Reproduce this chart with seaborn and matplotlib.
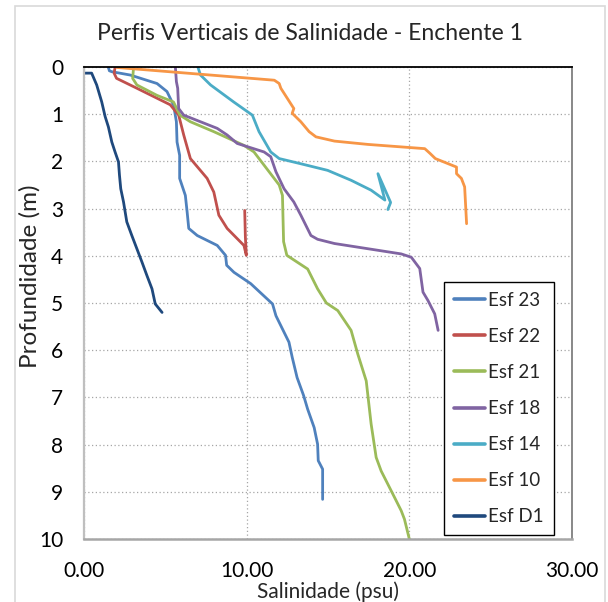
import numpy as np
import pandas as pd
import matplotlib
matplotlib.use("Agg")
import matplotlib.pyplot as plt
import seaborn as sns
from matplotlib.patches import Rectangle

# ---- data ----
series_names = ["Esf 23", "Esf 22", "Esf 21", "Esf 18", "Esf 14", "Esf 10", "Esf D1"]
series_colors = ["#4F81BD", "#C0504D", "#9BBB59", "#8064A2", "#4BACC6", "#F79646", "#1F497D"]

esf23_sal = [1.50, 1.56, 1.71, 2.84, 4.49, 5.10, 5.51, 5.68, 5.72, 5.88, 5.88, 6.23, 6.34, 6.44,
             6.96, 8.19, 8.70, 8.77, 9.22, 10.25, 11.59, 11.80, 12.60, 12.80, 13.10, 13.50,
             13.75, 14.15, 14.36, 14.40, 14.67, 14.67]
esf23_dep = [0.01, 0.08, 0.10, 0.17, 0.35, 0.52, 0.81, 1.16, 1.59, 1.87, 2.36, 2.72, 3.07, 3.42,
             3.57, 3.78, 3.99, 4.20, 4.35, 4.59, 5.02, 5.27, 5.83, 6.15, 6.58, 6.96,
             7.25, 7.64, 7.99, 8.34, 8.52, 9.16]

esf22_sal = [1.91, 1.85, 2.00, 3.25, 5.30, 5.82, 6.13, 6.54, 7.57, 7.98, 8.29, 8.80, 9.83, 9.98, 9.92, 9.88]
esf22_dep = [0.01, 0.13, 0.24, 0.45, 0.80, 1.02, 1.44, 1.94, 2.36, 2.65, 3.14, 3.42, 3.78, 3.99, 3.60, 3.04]

esf21_sal = [3.05, 2.99, 3.25, 4.48, 5.50, 5.90, 6.54, 7.98, 9.83, 10.45, 11.07, 12.00, 12.20,
             12.27, 12.47, 13.75, 14.36, 14.90, 15.60, 16.42, 16.83, 17.35, 17.65, 17.96,
             18.27, 18.99, 19.50, 19.70, 20.00]
esf21_dep = [0.00, 0.24, 0.38, 0.60, 0.74, 1.02, 1.16, 1.37, 1.66, 1.80, 2.08, 2.50, 2.72,
             3.70, 3.99, 4.28, 4.70, 5.00, 5.16, 5.58, 6.08, 6.65, 7.56, 8.27,
             8.56, 9.05, 9.40, 9.58, 10.00]

esf18_sal = [5.62, 5.68, 5.76, 5.82, 6.13, 7.16, 8.19, 8.80, 9.42, 11.07, 11.48, 11.80, 12.30,
             12.90, 13.33, 13.95, 14.36, 15.40, 17.45, 19.50, 20.12, 20.64, 20.84, 21.15,
             21.56, 21.77]
esf18_dep = [0.01, 0.31, 0.45, 0.88, 1.02, 1.16, 1.30, 1.44, 1.62, 1.80, 1.90, 2.22, 2.58,
             2.86, 3.14, 3.57, 3.65, 3.74, 3.85, 3.96, 4.03, 4.27, 4.77, 4.95,
             5.23, 5.58]

esf14_sal = [7.00, 7.16, 7.78, 9.20, 10.35, 10.76, 11.48, 12.00, 13.33, 14.98, 16.42, 17.65,
             18.50, 18.07, 18.85, 18.68]
esf14_dep = [0.00, 0.17, 0.38, 0.74, 1.02, 1.37, 1.80, 1.94, 2.05, 2.19, 2.40, 2.61,
             2.82, 2.26, 2.87, 3.02]

esf10_sal = [2.02, 11.70, 12.00, 12.10, 12.90, 12.80, 13.33, 13.84, 14.26, 15.40, 17.45, 20.95,
             21.27, 21.60, 22.90, 22.90, 23.20, 23.40, 23.52]
esf10_dep = [0.01, 0.28, 0.35, 0.45, 0.88, 0.98, 1.16, 1.37, 1.48, 1.57, 1.64, 1.73,
             1.83, 1.94, 2.12, 2.26, 2.36, 2.54, 3.32]

esfd1_sal = [0.05, 0.47, 0.78, 1.09, 1.30, 1.50, 1.71, 1.91, 2.12, 2.18, 2.26, 2.43, 2.63, 2.94,
             3.25, 3.56, 3.87, 4.18, 4.38, 4.80]
esfd1_dep = [0.13, 0.13, 0.38, 0.74, 1.05, 1.27, 1.59, 1.80, 2.01, 2.29, 2.58, 2.86, 3.28, 3.57,
             3.85, 4.13, 4.42, 4.70, 5.02, 5.20]

x_ticks = [0, 10, 20, 30]
x_tick_labels = ["0.00", "10.00", "20.00", "30.00"]
y_ticks = list(range(11))

title_text = "Perfis Verticais de Salinidade - Enchente 1"
x_label = "Salinidade (psu)"
y_label = "Profundidade (m)"

# ---- build table ----
all_sal = [esf23_sal, esf22_sal, esf21_sal, esf18_sal, esf14_sal, esf10_sal, esfd1_sal]
all_dep = [esf23_dep, esf22_dep, esf21_dep, esf18_dep, esf14_dep, esf10_dep, esfd1_dep]
frames = []
for name, sal, dep in zip(series_names, all_sal, all_dep):
    frames.append(pd.DataFrame({"Salinidade": sal, "Profundidade": dep, "Estacao": name}))
df = pd.concat(frames, ignore_index=True)

sns.set_theme(style="white")
plt.rcParams['font.family'] = ['Lato', 'DejaVu Sans']

W, H = 608, 602
fig = plt.figure(figsize=(W / 100, H / 100), dpi=100)
L, R, T, B = 84, 572, 67, 539
ax = fig.add_axes([L / W, 1 - B / H, (R - L) / W, (B - T) / H])

sns.lineplot(data=df, x="Salinidade", y="Profundidade", hue="Estacao",
             hue_order=series_names, palette=dict(zip(series_names, series_colors)),
             sort=False, estimator=None, linewidth=2.0, ax=ax, legend=True)

ax.set_xlim(0, 30)
ax.set_ylim(10, 0)
ax.set_xticks(x_ticks)
ax.set_xticklabels(x_tick_labels)
ax.set_yticks(y_ticks)
ax.set_xlabel("")
ax.set_ylabel("")
ax.tick_params(axis="both", length=0, labelsize=15, colors="black")
ax.tick_params(axis="x", pad=16)
ax.tick_params(axis="y", pad=15)

ax.grid(True, color="#A6A6A6", linestyle=(0, (1, 2)), linewidth=0.9)
ax.set_axisbelow(True)

ax.spines["top"].set_color("black")
ax.spines["top"].set_linewidth(1.3)
ax.spines["left"].set_color("#BFBFBF")
ax.spines["left"].set_linewidth(1.6)
ax.spines["bottom"].set_color("#A6A6A6")
ax.spines["bottom"].set_linewidth(1.8)
ax.spines["right"].set_color("#7F7F7F")
ax.spines["right"].set_linewidth(1.3)

handles, labels = ax.get_legend_handles_labels()
ax.get_legend().remove()
for h in handles:
    h.set_linewidth(2.6)
leg = ax.legend(handles, labels, loc="upper left",
                bbox_to_anchor=(444 / W, 1 - 282 / H), bbox_transform=fig.transFigure,
                frameon=True, fancybox=False, edgecolor="black", framealpha=1,
                fontsize=13.5, handlelength=1.65, handletextpad=0.2,
                labelspacing=1.02, borderpad=0.52, borderaxespad=0)
leg.get_frame().set_linewidth(1.0)

fig.text(310 / W, 1 - 33 / H, title_text, ha="center", va="center", fontsize=16.6)
fig.text(328 / W, 1 - 592 / H, x_label, ha="center", va="center", fontsize=15)
fig.text(30 / W, 1 - 276 / H, y_label, ha="center", va="center", rotation=90, fontsize=17.5)

fig.patches.append(Rectangle((15 / W, -0.05), 590 / W, 1 - 6 / H + 0.05,
                             transform=fig.transFigure, fill=False,
                             edgecolor="#D9D9D9", linewidth=1.2))

fig.savefig("out.png", dpi=100)
